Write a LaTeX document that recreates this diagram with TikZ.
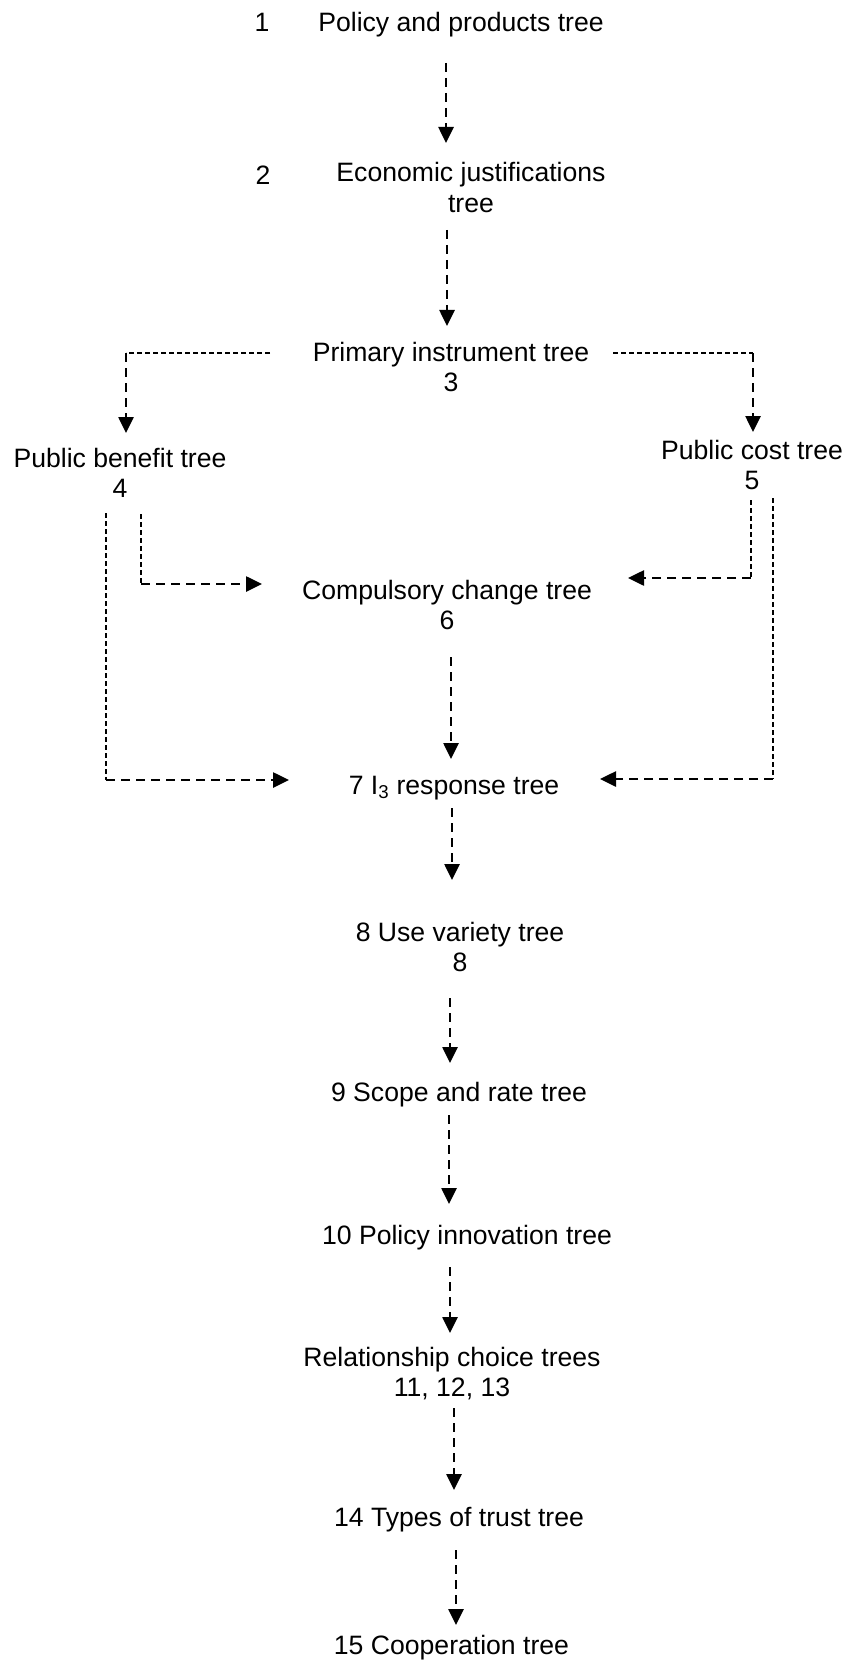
\documentclass[tikz,border=0pt]{standalone}
\usepackage{fontspec}
\setmainfont{Liberation Sans}
\usetikzlibrary{arrows.meta}

% stacked, centred lines whose baseline is that of the first line
\newcommand{\tlines}[1]{\begin{tabular}[t]{@{}c@{}}#1\end{tabular}}

\tikzset{
  lbl/.style={inner sep=0pt, anchor=base, font=\fontsize{26.6}{30.5}\selectfont},
  flow/.style={line width=2.6pt, dash pattern=on 9pt off 6pt,
               -{Triangle[length=16pt,width=15pt]}},
  guide/.style={line width=1.1pt, dash pattern=on 5pt off 3pt},
}

\begin{document}
\begin{tikzpicture}[x=1pt,y=-1pt]
\useasboundingbox (0,0) rectangle (846,1661);

% tree labels
\node[lbl] (n1num) at (262,32)   {1};
\node[lbl] (n1)    at (461,32)   {\tlines{Policy and products tree}};
\node[lbl] (n2num) at (263,185)  {2};
\node[lbl] (n2)    at (471,182)  {\tlines{Economic justifications\\tree}};
\node[lbl] (n3)    at (451,361)  {\tlines{Primary instrument tree\\3}};
\node[lbl] (n4)    at (120,467)  {\tlines{Public benefit tree\\4}};
\node[lbl] (n5)    at (752,459)  {\tlines{Public cost tree\\5}};
\node[lbl] (n6)    at (447,599)  {\tlines{Compulsory change tree\\6}};
\node[lbl] (n7)    at (454,794)  {\tlines{7 I\textsubscript{3} response tree}};
\node[lbl] (n8)    at (460,941)  {\tlines{8 Use variety tree\\8}};
\node[lbl] (n9)    at (459,1101) {\tlines{9 Scope and rate tree}};
\node[lbl] (n10)   at (467,1244) {\tlines{10 Policy innovation tree}};
\node[lbl] (n11)   at (452,1366) {\tlines{Relationship choice trees\\11, 12, 13}};
\node[lbl] (n14)   at (459,1526) {\tlines{14 Types of trust tree}};
\node[lbl] (n15)   at (451.5,1654) {\tlines{15 Cooperation tree}};

% connector end points
\coordinate (a12s) at (446,63);   \coordinate (a12e) at (446,143);
\coordinate (a23s) at (447,230);  \coordinate (a23e) at (447,326);
\coordinate (b3l)  at (270,353);  \coordinate (c34)  at (126,353);  \coordinate (a34e) at (126,433);
\coordinate (b3r)  at (613,353);  \coordinate (c35)  at (753,353);  \coordinate (a35e) at (753,432);
\coordinate (b46)  at (141,514);  \coordinate (c46)  at (141,584);  \coordinate (a46e) at (262,584);
\coordinate (b47)  at (106,513);  \coordinate (c47)  at (106,780);  \coordinate (a47e) at (289,780);
\coordinate (b56)  at (751,500);  \coordinate (c56)  at (751,578);  \coordinate (a56e) at (628,578);
\coordinate (b57)  at (773,498);  \coordinate (c57)  at (773,779);  \coordinate (a57e) at (600,779);
\coordinate (a67s) at (451,657);  \coordinate (a67e) at (451,759);
\coordinate (a78s) at (452,808);  \coordinate (a78e) at (452,880);
\coordinate (a89s) at (450,998);  \coordinate (a89e) at (450,1063);
\coordinate (a910s) at (449,1115); \coordinate (a910e) at (449,1204);
\coordinate (a1011s) at (450,1267); \coordinate (a1011e) at (450,1333);
\coordinate (a1114s) at (454,1408); \coordinate (a1114e) at (454,1490);
\coordinate (a1415s) at (456,1550); \coordinate (a1415e) at (456,1625);

% main chain
\draw[flow] (a12s) -- (a12e);
\draw[flow] (a23s) -- (a23e);
\draw[flow] (a67s) -- (a67e);
\draw[flow] (a78s) -- (a78e);
\draw[flow] (a89s) -- (a89e);
\draw[flow] (a910s) -- (a910e);
\draw[flow] (a1011s) -- (a1011e);
\draw[flow] (a1114s) -- (a1114e);
\draw[flow] (a1415s) -- (a1415e);

% branches from the primary instrument tree
\draw[guide] (b3l) -- (c34);
\draw[flow]  (c34) -- (a34e);
\draw[guide] (b3r) -- (c35);
\draw[flow]  (c35) -- (a35e);

% public benefit and public cost feeds
\draw[guide] (b46) -- (c46);
\draw[flow]  (c46) -- (a46e);
\draw[guide] (b47) -- (c47);
\draw[flow]  (c47) -- (a47e);
\draw[guide] (b56) -- (c56);
\draw[flow]  (c56) -- (a56e);
\draw[guide] (b57) -- (c57);
\draw[flow]  (c57) -- (a57e);
\end{tikzpicture}
\end{document}
